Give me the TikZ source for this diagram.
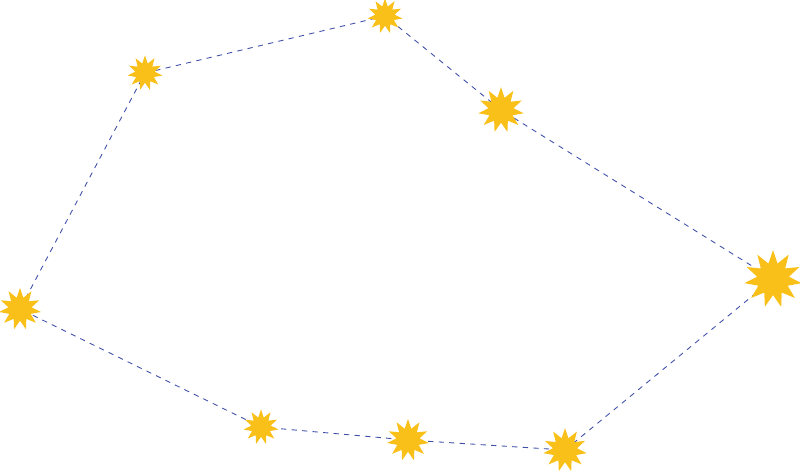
\documentclass[tikz,border=0pt]{standalone}
\usetikzlibrary{shapes.geometric,backgrounds}
\definecolor{staryellow}{HTML}{F9C01A}
\definecolor{linkblue}{HTML}{3F4FA8}
\tikzset{
    starnode/.style={star, star points=11, star point ratio=1.8, fill=staryellow, draw=none, inner sep=0pt, minimum size=#1},
    link/.style={dashed, linkblue, line width=0.5pt}
}
\begin{document}
\begin{tikzpicture}[x=0.02cm, y=-0.02cm]
\useasboundingbox (0,0) rectangle (800,471);
% Stars
\node[starnode=20pt] (a) at (145,73) {};
\node[starnode=20pt] (b) at (385,16) {};
\node[starnode=26pt] (c) at (501,110) {};
\node[starnode=33pt] (d) at (773,279) {};
\node[starnode=25pt] (e) at (565,450) {};
\node[starnode=24pt] (f) at (408,440) {};
\node[starnode=20pt] (g) at (261,427) {};
\node[starnode=24pt] (h) at (20,309) {};

% Dashed loop
\begin{scope}[on background layer]
\draw[link] (a.center) -- (b.center) -- (c.center) -- (d.center) -- (e.center)
    -- (f.center) -- (g.center) -- (h.center) -- (a.center);
\end{scope}
\end{tikzpicture}
\end{document}
